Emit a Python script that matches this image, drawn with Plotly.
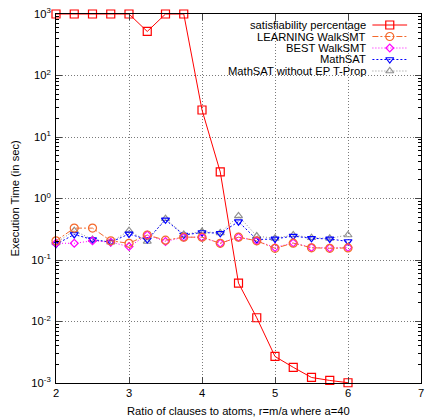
import plotly.graph_objects as go

# ---- data ----
ratio = [2, 2.25, 2.5, 2.75, 3, 3.25, 3.5, 3.75, 4, 4.25, 4.5, 4.75, 5, 5.25, 5.5, 5.75, 6]
sat_pct = [1000, 1000, 1000, 1000, 1000, 520, 1000, 1000, 27.5, 2.7, 0.042, 0.0115,
           0.0027, 0.0018, 0.00123, 0.0011, 0.00101]
learning = [0.205, 0.33, 0.33, 0.205, 0.187, 0.255, 0.21, 0.235, 0.235, 0.187, 0.235,
            0.205, 0.155, 0.188, 0.158, 0.155, 0.157]
best = [0.187, 0.187, 0.205, 0.195, 0.165, 0.255, 0.2, 0.235, 0.235, 0.187, 0.235,
        0.205, 0.16, 0.19, 0.16, 0.157, 0.16]
mathsat = [0.18, 0.26, 0.215, 0.195, 0.265, 0.215, 0.45, 0.255, 0.28, 0.272, 0.42,
           0.215, 0.22, 0.245, 0.225, 0.22, 0.2]
mathsat_noep = [0.19, 0.30, 0.215, 0.195, 0.30, 0.20, 0.47, 0.26, 0.29, 0.275, 0.52,
                0.245, 0.225, 0.255, 0.23, 0.225, 0.255]

series_names = ["satisfiability percentage", "LEARNING WalkSMT", "BEST WalkSMT",
                "MathSAT", "MathSAT without EP T-Prop"]
x_ticks = [2, 3, 4, 5, 6, 7]
y_tickvals = [1e-3, 1e-2, 1e-1, 1, 10, 100, 1000]
y_ticktext = ["10<sup>-3</sup>", "10<sup>-2</sup>", "10<sup>-1</sup>", "10<sup>0</sup>",
              "10<sup>1</sup>", "10<sup>2</sup>", "10<sup>3</sup>"]

styles = [
    dict(color="#ff0000", dash="solid", symbol="square-open", size=8),
    dict(color="#f4692c", dash="6px,2px,2px,2px", symbol="circle-open", size=8),
    dict(color="#ff00ff", dash="1px,2px", symbol="diamond-open", size=6),
    dict(color="#0000ff", dash="2px,2px", symbol="triangle-down-open", size=7),
    dict(color="#909090", dash="1px,2px", symbol="triangle-up-open", size=7),
]
values = [sat_pct, learning, best, mathsat, mathsat_noep]

FONT = "Liberation Sans, Arial, sans-serif"
FS = 11.2
W, H = 428, 417
L, R, T, B = 56, 4, 14, 34

fig = go.Figure()

# draw in reverse so red is on top
for name, vals, st in list(zip(series_names, values, styles))[::-1]:
    fig.add_trace(go.Scatter(
        x=ratio, y=vals, name=name, mode="lines+markers",
        line=dict(color=st["color"], width=1, dash=st["dash"]),
        marker=dict(symbol=st["symbol"], size=st["size"], color=st["color"],
                    line=dict(width=1.2, color=st["color"])),
        cliponaxis=False, showlegend=False,
    ))

# ---- custom gnuplot-style legend (text right, sample left) ----
pw, ph = W - L - R, H - T - B
row_px = [25, 36.5, 48, 59.5, 71]
samp_x0, samp_x1, txt_right = 375, 410, 371
for name, st, py in zip(series_names, styles, row_px):
    yp = (H - B - py) / ph
    x0 = (samp_x0 - L) / pw
    x1 = (samp_x1 - L) / pw
    fig.add_trace(go.Scatter(
        x=[x0, x1], y=[yp, yp], mode="lines", xaxis="x2", yaxis="y2",
        line=dict(color=st["color"], width=1, dash=st["dash"]),
        showlegend=False, hoverinfo="skip"))
    fig.add_trace(go.Scatter(
        x=[(x0 + x1) / 2], y=[yp], mode="markers", xaxis="x2", yaxis="y2",
        marker=dict(symbol=st["symbol"], size=st["size"], color=st["color"],
                    line=dict(width=1.2, color=st["color"])),
        showlegend=False, hoverinfo="skip"))
    fig.add_annotation(x=(txt_right - L) / pw, y=yp, xref="paper", yref="paper",
                       text=name, showarrow=False, xanchor="right", yanchor="middle",
                       font=dict(family=FONT, size=FS, color="black"))

# key box hides grid behind it
fig.add_shape(type="rect", xref="paper", yref="paper",
              x0=(190 - L) / pw, x1=(421 - L) / pw,
              y0=(H - B - 82) / ph, y1=(H - B - 16) / ph,
              fillcolor="white", line=dict(width=0), layer="between")

minor_vals = [k * 10.0 ** e for e in range(-3, 3) for k in range(2, 10)]

GRID = dict(showgrid=True, gridcolor="#7a7a7a", griddash="1px,2px", gridwidth=1)

fig.update_layout(
    width=W, height=H,
    margin=dict(l=L, r=R, t=T, b=B),
    paper_bgcolor="white", plot_bgcolor="white",
    font=dict(family=FONT, size=FS, color="black"),
    showlegend=False,
    xaxis=dict(range=[2, 7], tickvals=x_ticks, ticks="inside", ticklen=6,
               showline=True, linecolor="black", linewidth=1, mirror="allticks",
               zeroline=False, tickfont=dict(size=FS), **GRID),
    yaxis=dict(type="log", range=[-3, 3], tickvals=y_tickvals, ticktext=y_ticktext,
               ticks="inside", ticklen=6, showline=True, linecolor="black", linewidth=1,
               mirror="allticks", zeroline=False, tickfont=dict(size=FS),
               ticklabelstandoff=2,
               minor=dict(tickvals=minor_vals, ticks="inside", ticklen=3,
                          tickcolor="black", showgrid=False), **GRID),
    xaxis2=dict(range=[0, 1], overlaying="x", visible=False, showgrid=False,
                showticklabels=False),
    yaxis2=dict(range=[0, 1], overlaying="y", visible=False, showgrid=False,
                showticklabels=False),
)

fig.add_annotation(x=0.5, y=0, xref="paper", yref="paper", yshift=-28,
                   text="Ratio of clauses to atoms, r=m/a where a=40", showarrow=False,
                   xanchor="center", yanchor="middle", font=dict(family=FONT, size=FS))
fig.add_annotation(x=0, y=0.5, xref="paper", yref="paper", xshift=-42,
                   text="Execution Time (in sec)", showarrow=False, textangle=-90,
                   xanchor="center", yanchor="middle", font=dict(family=FONT, size=FS))

fig.write_html("out.html")
